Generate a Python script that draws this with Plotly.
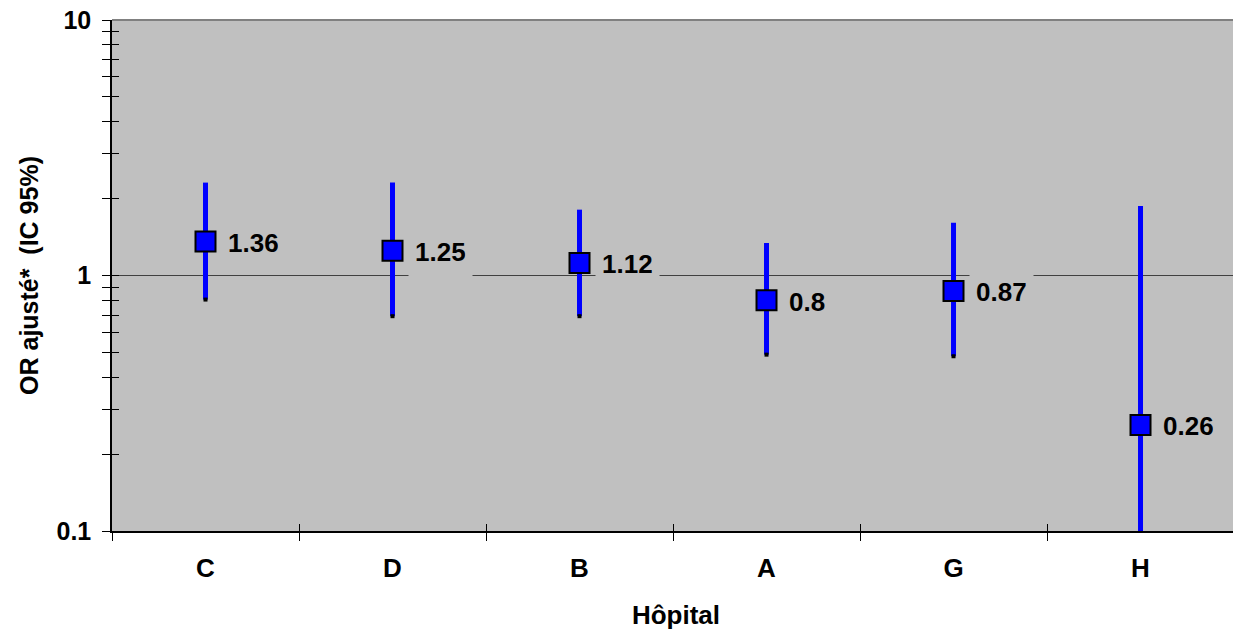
import math
import plotly.graph_objects as go

categories = ["C", "D", "B", "A", "G", "H"]
or_values = [1.36, 1.25, 1.12, 0.8, 0.87, 0.26]
ci_low = [0.805, 0.693, 0.693, 0.49, 0.483, 0.093]
ci_high = [2.31, 2.31, 1.81, 1.34, 1.61, 1.87]

y_major = [0.1, 1, 10]
y_major_text = ["0.1", "1", "10"]
y_minor = [0.2, 0.3, 0.4, 0.5, 0.6, 0.7, 0.8, 0.9, 2, 3, 4, 5, 6, 7, 8, 9]

FONT = "Liberation Sans, Arial, sans-serif"
FS = 26
BLUE = "#0000FF"
BG = "#C0C0C0"
XRANGE = [-0.5, 5.532]

# CI lines as one trace with gaps
lx, ly = [], []
for c, lo, hi in zip(categories, ci_low, ci_high):
    lx += [c, c, None]
    ly += [lo, hi, None]

fig = go.Figure()
fig.add_trace(go.Scatter(x=lx, y=ly, mode="lines",
                         line=dict(color=BLUE, width=5),
                         hoverinfo="skip", showlegend=False))
fig.add_trace(go.Scatter(x=categories, y=ci_low, mode="markers",
                         marker=dict(symbol="square", size=4, color="black"),
                         hoverinfo="skip", showlegend=False))
fig.add_trace(go.Scatter(x=categories, y=or_values, mode="markers",
                         marker=dict(symbol="square", size=20, color=BLUE,
                                     line=dict(color="black", width=2)),
                         showlegend=False))
# invisible trace to anchor the overlay axes (inner half of the crossing ticks)
fig.add_trace(go.Scatter(x=categories, y=or_values, mode="markers",
                         marker=dict(opacity=0), xaxis="x2", yaxis="y2",
                         hoverinfo="skip", showlegend=False))

for c, v in zip(categories, or_values):
    fig.add_annotation(x=c, y=math.log10(v), text=f"{v:g}",
                       showarrow=False, xanchor="left", yanchor="middle",
                       xshift=15, yshift=-4,
                       font=dict(family=FONT, size=FS, color="black", weight="bold"),
                       bgcolor=BG, borderpad=6, height=35, valign="top")

fig.add_shape(type="line", xref="paper", yref="paper", x0=0, x1=1, y0=1, y1=1,
              line=dict(color="#808080", width=2))

fig.update_layout(
    width=1240, height=631,
    margin=dict(l=112, r=0, t=20, b=100),
    paper_bgcolor="white", plot_bgcolor=BG,
    font=dict(family=FONT, size=FS, color="black"),
    xaxis=dict(type="category", categoryarray=categories, range=XRANGE,
               tickson="boundaries", ticks="outside", ticklen=8, tickcolor="black",
               tickwidth=1, showline=True, linecolor="black", linewidth=2,
               showgrid=False, zeroline=False, ticklabelstandoff=13,
               tickfont=dict(family=FONT, size=FS, weight="bold"),
               title=dict(text="Hôpital", standoff=24,
                          font=dict(family=FONT, size=FS, weight="bold"))),
    yaxis=dict(type="log", range=[-1, 1], tickvals=y_major, ticktext=y_major_text,
               ticks="outside", ticklen=8, tickcolor="black", tickwidth=1,
               showline=True, linecolor="black", linewidth=1.5,
               showgrid=True, gridcolor="#404040", gridwidth=1, zeroline=False,
               ticklabelstandoff=6,
               minor=dict(tickvals=y_minor, ticks="outside", ticklen=8,
                          tickcolor="black", tickwidth=1, showgrid=False),
               tickfont=dict(family=FONT, size=25, weight="bold"),
               title=dict(text="OR ajusté*  (IC 95%)", standoff=11,
                          font=dict(family=FONT, size=25, weight="bold"))),
    xaxis2=dict(type="category", categoryarray=categories, range=XRANGE,
                overlaying="x", tickson="boundaries", ticks="inside", ticklen=7,
                tickcolor="black", showticklabels=False, showgrid=False,
                showline=False, zeroline=False, anchor="y2"),
    yaxis2=dict(type="log", range=[-1, 1], overlaying="y",
                tickvals=y_major + y_minor, ticks="inside", ticklen=7,
                tickcolor="black", showticklabels=False, showgrid=False,
                showline=False, zeroline=False, anchor="x2"),
)

fig.write_html("out.html", config={"displayModeBar": False},
               post_script="document.body.style.margin='0';"
                           "document.body.style.overflow='hidden';"
                           "document.documentElement.style.overflow='hidden';")
